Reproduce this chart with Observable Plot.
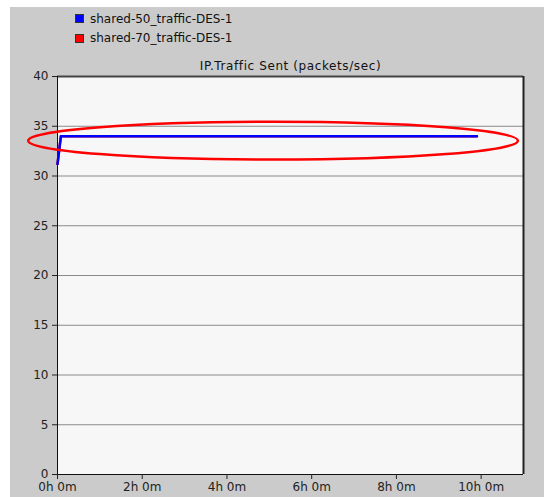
<!DOCTYPE html>
<html>
<head>
<meta charset="utf-8">
<script src="https://cdn.jsdelivr.net/npm/d3@7"></script>
<script src="https://cdn.jsdelivr.net/npm/@observablehq/plot@0.6"></script>
<style>
  body { margin: 0; background: #fff; }
  #page { position: relative; width: 544px; height: 497px; background: #fff; overflow: hidden; font-family: "DejaVu Sans", Arial, sans-serif; }
  #gray { position: absolute; left: 10px; top: 7px; right: 0; bottom: 0; background: #cbcbcb; }
  #legend { position: absolute; left: 75px; top: 9px; font-size: 12px; color: #111; }
  .item { display: flex; align-items: center; height: 19.5px; }
  .sw { width: 7px; height: 7px; border: 1px solid #333; margin-right: 6px; }
  #chart { position: absolute; left: 10px; top: 48px; }
</style>
</head>
<body>
<div id="page">
  <div id="gray"></div>
  <div id="legend"></div>
  <div id="chart"></div>
</div>
<script>
// Data (time in hours, values in packets/sec)
const seriesNames = ["shared-50_traffic-DES-1", "shared-70_traffic-DES-1"];
const seriesColors = ["#0000ff", "#ff0000"];
const timeHours = [0, 0.08, 9.9];
const shared50 = [31.2, 34, 34];
const shared70 = [31.2, 34, 34];
const yTicks = [0, 5, 10, 15, 20, 25, 30, 35, 40];
const xTicks = [0, 2, 4, 6, 8, 10];
const gridValues = [5, 10, 15, 20, 25, 30, 35];
// hand-drawn highlight ellipse around the lines (data coords)
const highlight = [{x1: -0.68, x2: 10.88, y1: 31.6, y2: 35.4}];

const rows = timeHours.map((t, i) => ({t, v: shared70[i], s: seriesNames[1]}));
const rows50 = timeHours.map((t, i) => ({t, v: shared50[i], s: seriesNames[0]}));

// legend
const legend = document.getElementById("legend");
seriesNames.forEach((n, i) => {
  const d = document.createElement("div");
  d.className = "item";
  d.innerHTML = `<span class="sw" style="background:${seriesColors[i]}"></span><span>${n}</span>`;
  legend.appendChild(d);
});

const chart = Plot.plot({
  width: 534,
  height: 449,
  marginLeft: 47,
  marginRight: 21,
  marginTop: 28,
  marginBottom: 23,
  style: {fontFamily: "DejaVu Sans, Arial, sans-serif", fontSize: "12px", color: "#222", background: "transparent", overflow: "visible"},
  x: {domain: [0, 11], label: null},
  y: {domain: [0, 40], label: null},
  marks: [
    Plot.frame({fill: "#f7f7f7", stroke: null}),
    Plot.ruleY(gridValues, {stroke: "#8a8a8a", strokeWidth: 1}),
    Plot.ruleY([40], {stroke: "#444", strokeWidth: 2}),
    Plot.ruleX([11], {stroke: "#222", strokeWidth: 2}),
    Plot.ruleX([0], {stroke: "#111", strokeWidth: 1}),
    Plot.ruleY([0], {stroke: "#111", strokeWidth: 1}),
    Plot.axisY({ticks: yTicks, tickSize: 5, tickPadding: 4, label: null, fontSize: 12}),
    Plot.axisX({ticks: xTicks, tickSize: 5, tickPadding: 3, label: null, fontSize: 12, tickFormat: d => `${d}h 0m`}),
    Plot.line(rows, {x: "t", y: "v", stroke: seriesColors[1], strokeWidth: 2.5}),
    Plot.line(rows50, {x: "t", y: "v", stroke: seriesColors[0], strokeWidth: 2.5}),
    Plot.rect(highlight, {x1: "x1", x2: "x2", y1: "y1", y2: "y2", rx: 400, ry: 40, fill: "none", stroke: "#ff0000", strokeWidth: 2.5, clip: false}),
    Plot.text(["IP.Traffic Sent (packets/sec)"], {frameAnchor: "top", lineAnchor: "middle", dy: -10, fontSize: 12, fill: "#111", style: "letter-spacing:0.6px"})
  ]
});
chart.querySelectorAll("text").forEach(t => {
  if (t.textContent === "IP.Traffic Sent (packets/sec)") t.setAttribute("letter-spacing", "0.6");
});
document.getElementById("chart").appendChild(chart);
</script>
</body>
</html>
